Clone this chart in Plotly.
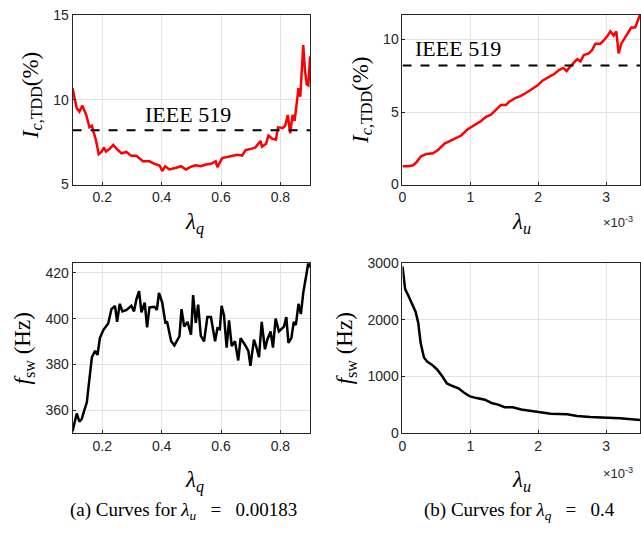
import plotly.graph_objects as go

# Data.
lam_q = [0.1, 0.114, 0.123, 0.133, 0.146, 0.157, 0.165, 0.172, 0.179, 0.188, 0.198, 0.206,
	0.212, 0.224, 0.237, 0.248, 0.265, 0.281, 0.298, 0.315, 0.337, 0.359, 0.376, 0.393,
	0.402, 0.412, 0.426, 0.449, 0.465, 0.482, 0.499, 0.515, 0.532, 0.549, 0.566, 0.582,
	0.588, 0.604, 0.621, 0.638, 0.655, 0.671, 0.683, 0.699, 0.716, 0.733, 0.738, 0.752,
	0.760, 0.772, 0.785, 0.792, 0.808, 0.816, 0.825, 0.833, 0.841, 0.848, 0.855, 0.861,
	0.867, 0.870, 0.877, 0.883, 0.889, 0.894, 0.9]
tdd_q = [10.68, 9.5, 9.3, 9.65, 9.1, 8.37, 8.46, 8.08, 7.6, 6.79, 6.94, 7.19,
	6.94, 7.09, 7.34, 7.11, 6.84, 6.92, 6.69, 6.69, 6.37, 6.37, 6.22, 6.12,
	5.80, 6.08, 5.89, 5.99, 6.08, 5.89, 6.05, 6.14, 6.08, 6.18, 6.22, 6.37,
	6.03, 6.56, 6.62, 6.65, 6.75, 6.71, 7.03, 7.09, 7.19, 7.57, 7.23, 7.41,
	7.89, 7.70, 7.64, 8.37, 8.33, 8.46, 9.1, 8.02, 9.1, 8.75, 9.69, 10.68,
	10.17, 11.12, 13.21, 11.69, 10.89, 10.84, 12.55]

lam_u = [0, 0.083, 0.156, 0.205, 0.269, 0.352, 0.449, 0.523, 0.62, 0.694, 0.767, 0.865,
	0.962, 1.06, 1.158, 1.231, 1.304, 1.353, 1.45, 1.524, 1.573, 1.67, 1.744, 1.817,
	1.89, 1.988, 2.062, 2.135, 2.184, 2.232, 2.306, 2.369, 2.418, 2.477, 2.526, 2.574,
	2.623, 2.672, 2.745, 2.794, 2.843, 2.916, 2.965, 3.014, 3.063, 3.111, 3.151, 3.185,
	3.224, 3.307, 3.371, 3.429, 3.478, 3.5]
tdd_u = [1.27, 1.27, 1.33, 1.53, 1.93, 2.11, 2.16, 2.38, 2.82, 2.98, 3.16, 3.38,
	3.82, 4.11, 4.38, 4.67, 4.82, 5.04, 5.49, 5.49, 5.71, 5.98, 6.11, 6.31,
	6.53, 6.82, 7.16, 7.38, 7.49, 7.6, 7.89, 8.04, 7.82, 8.16, 8.42, 8.64,
	8.49, 8.93, 9.04, 9.27, 9.71, 9.71, 9.93, 10.2, 10.56, 10.27, 10.56, 9.04,
	9.71, 10.33, 10.82, 10.82, 11.49, 11.7]

lam_q_f = [0.1, 0.107, 0.114, 0.123, 0.131, 0.140, 0.148, 0.157, 0.165, 0.176, 0.184, 0.192,
	0.204, 0.220, 0.231, 0.243, 0.25, 0.259, 0.268, 0.282, 0.298, 0.307, 0.315, 0.324,
	0.332, 0.343, 0.351, 0.359, 0.376, 0.384, 0.391, 0.402, 0.413, 0.418, 0.432, 0.443,
	0.46, 0.467, 0.476, 0.487, 0.499, 0.506, 0.515, 0.523, 0.532, 0.543, 0.554, 0.566,
	0.58, 0.588, 0.596, 0.602, 0.61, 0.619, 0.627, 0.636, 0.647, 0.658, 0.666, 0.68,
	0.692, 0.699, 0.711, 0.719, 0.728, 0.737, 0.748, 0.756, 0.767, 0.775, 0.784, 0.795,
	0.812, 0.82, 0.827, 0.837, 0.845, 0.852, 0.861, 0.869, 0.877, 0.889, 0.894, 0.9]
fsw_q = [350.7, 354.9, 358.5, 354.9, 356.1, 360.1, 363.4, 373.9, 383.1, 385.9, 384.1, 391.5,
	395.1, 397.9, 404.2, 405.6, 398.6, 406.5, 403.2, 403.8, 405.6, 403.2, 408.5, 412.0,
	402.8, 407.0, 396.2, 404.9, 405.2, 403.8, 411.3, 407.0, 397.9, 398.9, 390.1, 388.3,
	392.3, 404.2, 396.5, 398.6, 393.0, 410.3, 398.2, 406.1, 392.5, 390.1, 400.7, 400.7,
	390.1, 395.8, 395.4, 405.6, 401.4, 387.3, 399.3, 388.0, 390.1, 381.7, 391.5, 388.7,
	385.9, 379.3, 390.8, 387.6, 383.1, 398.6, 386.6, 390.8, 394.4, 387.3, 400.0, 394.4,
	396.5, 400.7, 389.4, 391.5, 398.6, 397.2, 406.5, 402.0, 411.3, 420.4, 424.6, 422.5]

lam_u_f = [0, 0.039, 0.087, 0.146, 0.194, 0.233, 0.267, 0.316, 0.364, 0.437, 0.51, 0.583,
	0.655, 0.728, 0.825, 0.898, 0.995, 1.092, 1.214, 1.311, 1.408, 1.505, 1.626, 1.748,
	1.893, 2.039, 2.184, 2.427, 2.573, 2.767, 3.01, 3.204, 3.5]
fsw_u = [2943, 2540, 2425, 2282, 2138, 1937, 1592, 1333, 1259, 1201, 1121, 1006,
	874, 833, 787, 718, 644, 615, 586, 529, 500, 454, 454, 414,
	385, 368, 339, 328, 299, 282, 270, 259, 230]

ieee_limit = 8.2

# Axis values in units of 1e-3 are shown with a x10^-3 multiplier, like MATLAB.
lam_u = [v * 1e-3 for v in lam_u]
lam_u_f = [v * 1e-3 for v in lam_u_f]

W, H = 641, 535
def px(x):
	return x / W
def py(y):
	return 1 - y / H

fig = go.Figure()

fig.add_trace(go.Scatter(x=lam_q, y=tdd_q, mode='lines', line=dict(color='#ff0000', width=2.5),
	xaxis='x', yaxis='y'))
fig.add_trace(go.Scatter(x=[0.1, 0.9], y=[ieee_limit, ieee_limit], mode='lines',
	line=dict(color='black', width=2, dash='dash'), xaxis='x', yaxis='y'))
fig.add_trace(go.Scatter(x=lam_u, y=tdd_u, mode='lines', line=dict(color='#ff0000', width=2.5),
	xaxis='x2', yaxis='y2'))
fig.add_trace(go.Scatter(x=[0, 0.0035], y=[ieee_limit, ieee_limit], mode='lines',
	line=dict(color='black', width=2, dash='dash'), xaxis='x2', yaxis='y2'))
fig.add_trace(go.Scatter(x=lam_q_f, y=fsw_q, mode='lines', line=dict(color='black', width=2.5),
	xaxis='x3', yaxis='y3'))
fig.add_trace(go.Scatter(x=lam_u_f, y=fsw_u, mode='lines', line=dict(color='black', width=2.5),
	xaxis='x4', yaxis='y4'))

tick_font = dict(family='Liberation Sans, Arial', size=14, color='#262626')
ax_common = dict(showline=True, mirror=True, linecolor='#262626', linewidth=1,
	showgrid=True, gridcolor='#e3e3e3', gridwidth=1, zeroline=False,
	ticks='inside', ticklen=3, tickcolor='#262626', tickfont=tick_font)

left_dom = [px(69), px(308)]
right_dom = [px(401), px(640)]
top_dom = [py(182), py(7)]
bot_dom = [py(438), py(263)]

q_ticks = [0.2, 0.4, 0.6, 0.8]
u_ticks = [0, 0.001, 0.002, 0.003]

fig.update_layout(
	width=W, height=H,
	margin=dict(l=0, r=0, t=0, b=0),
	paper_bgcolor='white', plot_bgcolor='white',
	showlegend=False,
	xaxis=dict(ax_common, domain=left_dom, anchor='y', range=[0.1, 0.9],
		tickvals=q_ticks, ticktext=['0.2', '0.4', '0.6', '0.8']),
	yaxis=dict(ax_common, domain=top_dom, anchor='x', range=[5, 15],
		tickvals=[5, 10, 15]),
	xaxis2=dict(ax_common, domain=right_dom, anchor='y2', range=[0, 0.0035],
		tickvals=u_ticks, ticktext=['0', '1', '2', '3']),
	yaxis2=dict(ax_common, domain=top_dom, anchor='x2', range=[0, 11.7],
		tickvals=[0, 5, 10]),
	xaxis3=dict(ax_common, domain=left_dom, anchor='y3', range=[0.1, 0.9],
		tickvals=q_ticks, ticktext=['0.2', '0.4', '0.6', '0.8']),
	yaxis3=dict(ax_common, domain=bot_dom, anchor='x3', range=[350, 424.3],
		tickvals=[360, 380, 400, 420]),
	xaxis4=dict(ax_common, domain=right_dom, anchor='y4', range=[0, 0.0035],
		tickvals=u_ticks, ticktext=['0', '1', '2', '3']),
	yaxis4=dict(ax_common, domain=bot_dom, anchor='x4', range=[0, 3000],
		tickvals=[0, 1000, 2000, 3000]),
)

serif = 'Liberation Serif, Times New Roman, serif'
label_font = dict(family=serif, size=23, color='black')
y_tdd = '<i>I</i><sub><i>c</i>,TDD</sub>(%)'
y_fsw = '<i>f</i><sub>sw</sub> (Hz)'
x_q = '<i>λ<sub>q</sub></i>'
x_u = '<i>λ<sub>u</sub></i>'

def label(text, x, y, angle=0, font=label_font):
	fig.add_annotation(text=text, x=px(x), y=py(y), xref='paper', yref='paper',
		showarrow=False, textangle=angle, font=font, xanchor='center', yanchor='middle')

# Axis titles.
label(y_tdd, 28, 90, -90)
label(y_tdd, 360, 95, -90)
label(y_fsw, 20, 351, -90)
label(y_fsw, 344, 351, -90)
label(x_q, 192, 222)
label(x_u, 521, 222)
label(x_q, 192, 488)
label(x_u, 521, 488)

# MATLAB-style exponent multiplier.
exp_font = dict(family='Liberation Sans, Arial', size=13, color='#262626')
label('×10<sup>-3</sup>', 618, 221, font=exp_font)
label('×10<sup>-3</sup>', 618, 479, font=exp_font)

# IEEE 519 limit labels.
ieee_font = dict(family=serif, size=22, color='black')
fig.add_annotation(text='IEEE 519', x=0.49, y=9.1, xref='x', yref='y', showarrow=False, font=ieee_font)
fig.add_annotation(text='IEEE 519', x=0.00082, y=9.4, xref='x2', yref='y2', showarrow=False, font=ieee_font)

# Subfigure captions.
cap_font = dict(family=serif, size=19, color='black')
sp = '&nbsp;&nbsp;&nbsp;'
label('(a) Curves for <i>λ<sub>u</sub></i>' + sp + '=' + sp + '0.00183', 181, 519, font=cap_font)
label('(b) Curves for <i>λ<sub>q</sub></i>' + sp + '=' + sp + '0.4', 519, 519, font=cap_font)

fig.write_html("out.html", config={'displayModeBar': False},
	post_script="document.body.style.margin='0';")
